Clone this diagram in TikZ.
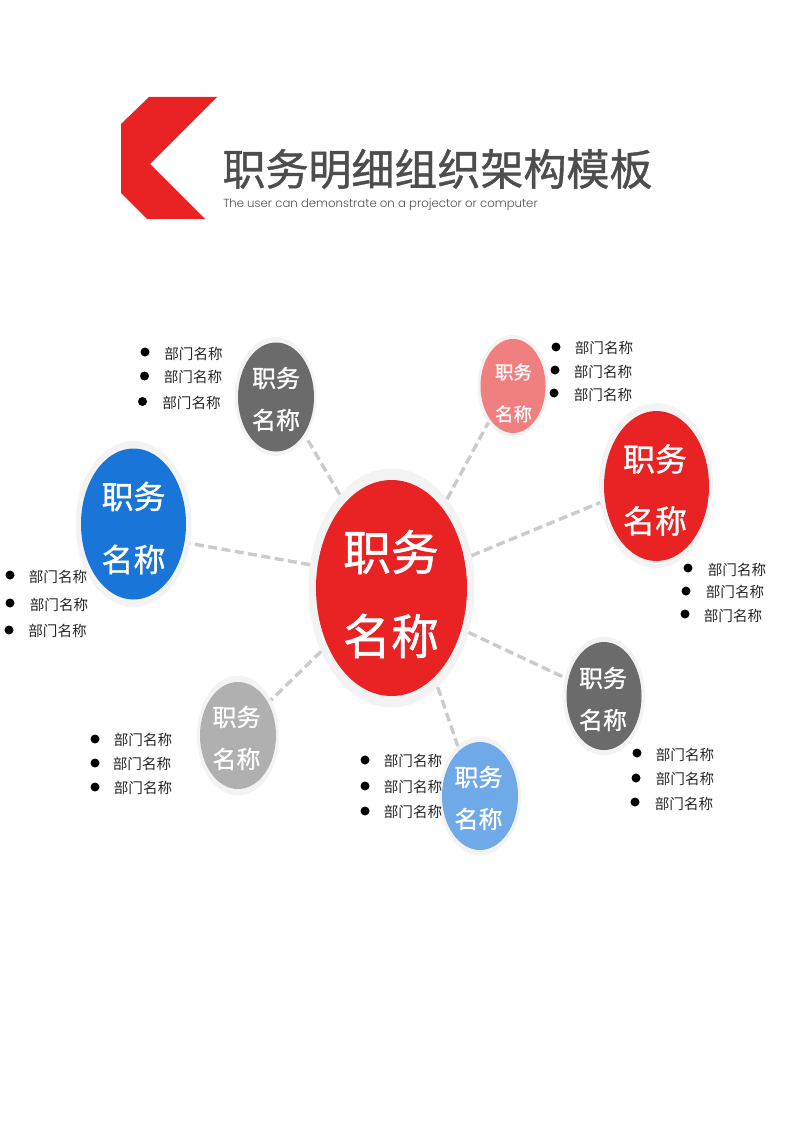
\documentclass[tikz,border=0pt]{standalone}
\usepackage{fontspec}
\newfontfamily\cjk{Noto Sans CJK SC}
\newfontfamily\cjkheavy[FakeBold=1]{Noto Sans CJK SC}
\newfontfamily\latinsub{Poppins Light}
\usetikzlibrary{shapes.geometric}
\definecolor{logored}{HTML}{E92224}
\definecolor{inkgray}{HTML}{4D4D4D}
\definecolor{ringgray}{HTML}{F3F3F3}
\definecolor{dashgray}{HTML}{CBCBCB}
\definecolor{darkdisc}{HTML}{6B6B6B}
\definecolor{lightdisc}{HTML}{B0B0B0}
\definecolor{bluedisc}{HTML}{1A75D8}
\definecolor{skydisc}{HTML}{6FA9E8}
\definecolor{pinkdisc}{HTML}{F08080}
\tikzset{
  ring/.style={ellipse,fill=ringgray,inner sep=0pt,outer sep=0pt},
  disc/.style={ellipse,inner sep=0pt,outer sep=0pt},
  disctext/.style={text=white,align=center,inner sep=0pt},
  link/.style={draw=dashgray,line width=3.4pt,dash pattern=on 9pt off 4.5pt},
  dot/.style={circle,fill=black,inner sep=0pt,minimum size=9pt},
  item/.style={font=\cjk\fontsize{14.6}{16}\selectfont,text=black!85,inner sep=0pt,yshift=-0.8pt}
}
\begin{document}
\begin{tikzpicture}[x=1pt,y=-1pt]
  \useasboundingbox (0,0) rectangle (800,1131);
  % heading
  \fill[logored] (149,97) -- (217,97) -- (150,164) -- (205,219) -- (147,219) -- (121,193) -- (121,124) -- cycle;
  \node[font=\cjkheavy\fontsize{43}{48}\selectfont,text=inkgray,inner sep=0pt] (heading) at (437.5,169) {职务明细组织架构模板};
  \node[font=\latinsub\fontsize{11.7}{14}\selectfont,text=inkgray,inner sep=0pt] (subheading) at (380.5,204.5) {The user can demonstrate on a projector or computer};
  % rings
  \node[ring,minimum width=166pt,minimum height=239pt] (hubring) at (391.5,588) {};
  \node[ring,minimum width=116pt,minimum height=166pt] (bluering) at (133.5,524) {};
  \node[ring,minimum width=82pt,minimum height=119pt] (grayring) at (275.5,396.5) {};
  \node[ring,minimum width=71pt,minimum height=102pt] (pinkring) at (513,386) {};
  \node[ring,minimum width=114pt,minimum height=165pt] (redring) at (656,485.5) {};
  \node[ring,minimum width=82pt,minimum height=119pt] (darkring) at (604,696) {};
  \node[ring,minimum width=82pt,minimum height=119pt] (skyring) at (480,796) {};
  \node[ring,minimum width=82pt,minimum height=120pt] (lightring) at (238,735.5) {};
  % discs
  \node[disc,fill=logored,minimum width=151pt,minimum height=216pt] (hub) at (391.5,588) {};
  \node[disc,fill=bluedisc,minimum width=105pt,minimum height=151pt] (blue) at (133.5,524) {};
  \node[disc,fill=darkdisc,minimum width=76pt,minimum height=109pt] (gray) at (276,397) {};
  \node[disc,fill=pinkdisc,minimum width=65pt,minimum height=94pt] (pink) at (513,386) {};
  \node[disc,fill=logored,minimum width=105pt,minimum height=150pt] (red) at (656.5,486) {};
  \node[disc,fill=darkdisc,minimum width=75pt,minimum height=108pt] (dark) at (604,696) {};
  \node[disc,fill=skydisc,minimum width=76pt,minimum height=108pt] (sky) at (480,796) {};
  \node[disc,fill=lightdisc,minimum width=76pt,minimum height=107pt] (light) at (238,735.5) {};
  % links
  \draw[link] (hubring.119) -- (grayring.-53);
  \draw[link] (hubring.58) -- (pinkring.-124);
  \draw[link] (hubring.22) -- (redring.197);
  \draw[link] (hubring.164) -- (bluering.-19);
  \draw[link] (hubring.-30) -- (darkring.155);
  \draw[link] (hubring.-65) -- (skyring.114);
  \draw[link] (hubring.-138) -- (lightring.47);
  % disc texts
  \node[disctext,font=\cjkheavy\fontsize{48}{84}\selectfont] (hubtext) at (391,594) {职务\\名称};
  \node[disctext,font=\cjkheavy\fontsize{32}{63}\selectfont] (bluetext) at (133.5,528) {职务\\名称};
  \node[disctext,font=\cjkheavy\fontsize{24}{42}\selectfont] (graytext) at (276,399) {职务\\名称};
  \node[disctext,font=\cjkheavy\fontsize{18.5}{42}\selectfont] (pinktext) at (513.5,393) {职务\\名称};
  \node[disctext,font=\cjkheavy\fontsize{32}{62}\selectfont] (redtext) at (655,490) {职务\\名称};
  \node[disctext,font=\cjkheavy\fontsize{24}{42}\selectfont] (darktext) at (603,699) {职务\\名称};
  \node[disctext,font=\cjkheavy\fontsize{24}{42}\selectfont] (skytext) at (478.5,798) {职务\\名称};
  \node[disctext,font=\cjkheavy\fontsize{24}{42}\selectfont] (lighttext) at (236.5,738) {职务\\名称};
  % lists
  \foreach \i/\dx/\dy/\tx/\ty in {
    1/145/352/193.5/353, 2/144.5/376/193/376.5, 3/142.5/401.5/191.5/402,
    4/556/347/604/347, 5/555/370/603/371, 6/554/393/603/394,
    7/688/568/737/569, 8/686/591/735/591, 9/685/614/733/615,
    10/637/753/685/754, 11/636/778/685/778, 12/635/802/684/803,
    13/365/760/413/760, 14/365/786/413/786, 15/365/811/413/811,
    16/95/739/143/739, 17/95/763/142/763, 18/95/787/143/787,
    19/10/575/58/576, 20/10/603/59/604, 21/9/630/57.5/630}{
    \node[dot] (dot\i) at (\dx,\dy) {};
    \node[item] (item\i) at (\tx,\ty) {部门名称};
  }
\end{tikzpicture}
\end{document}
